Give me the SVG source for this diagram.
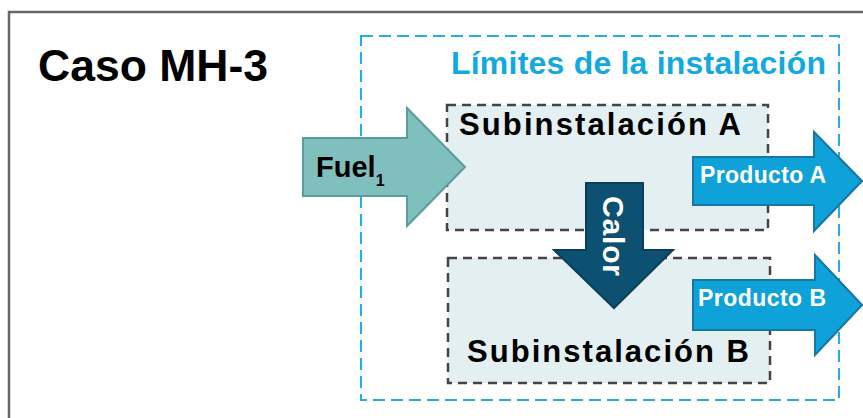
<svg xmlns="http://www.w3.org/2000/svg" width="863" height="418" viewBox="0 0 863 418">
<style>
text{font-family:"Liberation Sans",Arial,sans-serif;font-weight:bold}
.sub{fill:#e3eff0;stroke:#444;stroke-width:2.5;stroke-dasharray:9 6}
.lbl{fill:#000;font-size:31px}
.w{fill:#fff}
</style>
<rect width="863" height="418" fill="#fff"/>
<rect x="9" y="12" width="870" height="420" fill="none" stroke="#666" stroke-width="2.5"/>
<text x="38" y="81" font-size="44.5" textLength="230" lengthAdjust="spacing">Caso MH-3</text>
<g id="limites">
<rect x="361" y="36" width="478" height="364" fill="none" stroke="#22aee0" stroke-width="2" stroke-dasharray="12 6"/>
<text x="451" y="74" font-size="32" fill="#12a8e0" textLength="375" lengthAdjust="spacing">Límites de la instalación</text>
</g>
<g id="subA">
<rect class="sub" x="447" y="105" width="321" height="125"/>
<text class="lbl" x="459" y="135" textLength="282" lengthAdjust="spacing">Subinstalación A</text>
</g>
<g id="subB">
<rect class="sub" x="448" y="258" width="322" height="125"/>
<text class="lbl" x="467" y="362" textLength="282" lengthAdjust="spacing">Subinstalación B</text>
</g>
<g id="connectors">
<g id="fuel">
<path d="M303,138 H407 V108 L465,167 L407,226 V196 H303 Z" fill="#7fbfbe" stroke="#5a9c9c" stroke-width="2"/>
<text x="316" y="177" font-size="29" fill="#000">Fuel<tspan font-size="16" dy="9">1</tspan></text>
</g>
<g id="calor">
<path d="M586,183 H643 V250 H673 L614,308 L554,250 H586 Z" fill="#0d5172" stroke="#0a3f5a" stroke-width="2"/>
<text transform="translate(603,196) rotate(90)" font-size="30" class="w" textLength="80" lengthAdjust="spacing">Calor</text>
</g>
<g id="prodA">
<path d="M693,157 H814 V132 L862,181 L814,231 V205 H693 Z" fill="#0ea2d8" stroke="#1776a6" stroke-width="2"/>
<text x="700" y="183" font-size="23" class="w" textLength="126" lengthAdjust="spacing">Producto A</text>
</g>
<g id="prodB">
<path d="M693,280 H815 V255 L862,305 L815,355 V330 H693 Z" fill="#0ea2d8" stroke="#1776a6" stroke-width="2"/>
<text x="698" y="306" font-size="23" class="w" textLength="128" lengthAdjust="spacing">Producto B</text>
</g>
</g>
</svg>
